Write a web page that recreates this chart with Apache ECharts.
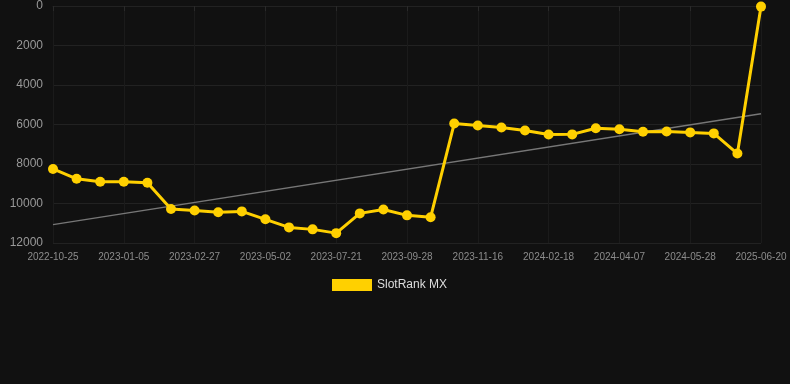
<!DOCTYPE html>
<html>
<head>
<meta charset="utf-8">
<script src="https://cdn.jsdelivr.net/npm/echarts@6/dist/echarts.min.js"></script>
<style>
html,body{margin:0;padding:0;background:#111111;}
#chart{width:790px;height:384px;}
</style>
</head>
<body>
<div id="chart"></div>
<script>
const categories = [
  "2022-10-25","2022-11-18","2022-12-12","2023-01-05","2023-01-20","2023-02-05",
  "2023-02-27","2023-03-20","2023-04-10","2023-05-02","2023-05-28","2023-06-24",
  "2023-07-21","2023-08-10","2023-09-05","2023-09-28","2023-10-20","2023-11-02",
  "2023-11-16","2023-12-20","2024-01-20","2024-02-18","2024-03-05","2024-03-20",
  "2024-04-07","2024-04-25","2024-05-10","2024-05-28","2024-06-20","2025-03-10",
  "2025-06-20"
];
const rankValues = [
  8250, 8750, 8900, 8900, 8950, 10280,
  10350, 10440, 10400, 10800, 11210, 11310,
  11500, 10500, 10300, 10600, 10700, 5950,
  6050, 6150, 6300, 6510, 6500, 6190,
  6240, 6370, 6350, 6400, 6450, 7470,
  30
];
const trendStart = 11070;
const trendEnd = 5450;
const yTicks = [0, 2000, 4000, 6000, 8000, 10000, 12000];

const trendData = categories.map((c, i) =>
  i === 0 ? trendStart : (i === categories.length - 1 ? trendEnd : null));

const chart = echarts.init(document.getElementById('chart'));
chart.setOption({
  backgroundColor: '#111111',
  animation: false,
  grid: { left: 53, right: 29, top: 6, bottom: 141 },
  legend: {
    data: [{ name: 'SlotRank MX', icon: 'rect' }],
    bottom: 88,
    left: 327,
    itemWidth: 40,
    itemHeight: 12,
    itemGap: 10,
    textStyle: { color: '#dddddd', fontSize: 12, fontFamily: 'Liberation Sans, Arial, sans-serif' }
  },
  xAxis: {
    type: 'category',
    data: categories,
    boundaryGap: false,
    axisLine: { show: true, lineStyle: { color: '#222222' } },
    axisTick: { show: true, interval: 2, lineStyle: { color: '#2a2a2a' } },
    axisLabel: { interval: 2, color: '#8c8c8c', fontSize: 10, margin: 9, fontFamily: 'Liberation Sans, Arial, sans-serif' },
    splitLine: { show: true, interval: 2, lineStyle: { color: '#1b1b1b', width: 1 } }
  },
  yAxis: {
    type: 'value',
    inverse: true,
    min: yTicks[0],
    max: yTicks[yTicks.length - 1],
    interval: 2000,
    axisLine: { show: false },
    axisTick: { show: false },
    axisLabel: {
      color: '#999999', fontSize: 12, margin: 10,
      fontFamily: 'Liberation Sans, Arial, sans-serif',
      formatter: v => String(v)
    },
    splitLine: { show: true, lineStyle: { color: '#222222', width: 1 } }
  },
  series: [
    {
      name: 'SlotRank MX',
      type: 'line',
      data: rankValues,
      symbol: 'circle',
      symbolSize: 10,
      itemStyle: { color: '#FFD000' },
      lineStyle: { color: '#FFD000', width: 3 },
      z: 3
    },
    {
      name: 'Trend',
      type: 'line',
      data: trendData,
      connectNulls: true,
      symbol: 'none',
      lineStyle: { color: '#777777', width: 1.5 },
      z: 2
    }
  ]
});
</script>
</body>
</html>
